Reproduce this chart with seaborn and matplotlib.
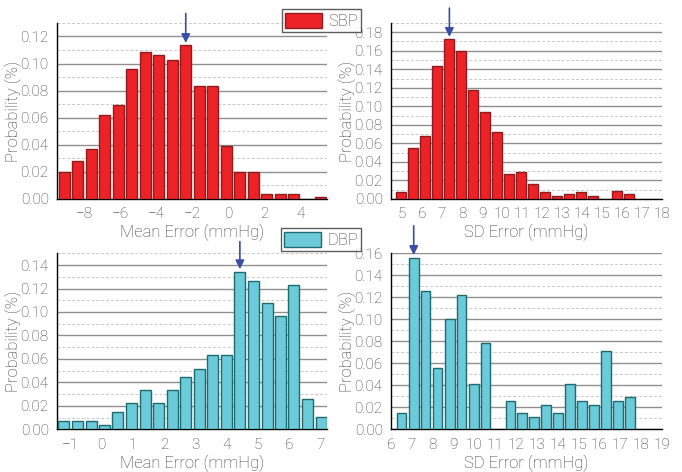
import matplotlib
matplotlib.use("Agg")
import matplotlib.pyplot as plt
from matplotlib.ticker import MultipleLocator, FormatStrFormatter
from matplotlib.patches import Patch
import seaborn as sns
import pandas as pd

sns.set_style("white")
plt.rcParams['font.family'] = ['Roboto', 'DejaVu Sans']
plt.rcParams['font.weight'] = 'light'
plt.rcParams['axes.labelweight'] = 'light'

# ---- data ----
sbp_mean_x = [-9.10, -8.35, -7.60, -6.85, -6.10, -5.35, -4.60, -3.85, -3.10, -2.35,
              -1.60, -0.85, -0.10, 0.65, 1.40, 2.15, 2.90, 3.65, 5.15]
sbp_mean_p = [0.0197, 0.0283, 0.0371, 0.0620, 0.0693, 0.0959, 0.1082, 0.1065, 0.1028, 0.1136,
              0.0834, 0.0834, 0.0393, 0.0197, 0.0197, 0.0037, 0.0037, 0.0037, 0.0015]

sbp_sd_x = [4.97, 5.57, 6.17, 6.77, 7.37, 7.97, 8.57, 9.17, 9.77, 10.37,
            10.97, 11.57, 12.17, 12.77, 13.37, 13.97, 14.57, 15.77, 16.37]
sbp_sd_p = [0.0072, 0.0554, 0.0677, 0.1440, 0.1724, 0.1598, 0.1177, 0.0940, 0.0727, 0.0270,
            0.0288, 0.0166, 0.0072, 0.0036, 0.0054, 0.0072, 0.0036, 0.0090, 0.0054]

dbp_mean_x = [-1.20, -0.77, -0.33, 0.10, 0.53, 0.96, 1.40, 1.83, 2.26, 2.70,
              3.13, 3.56, 4.00, 4.43, 4.86, 5.30, 5.73, 6.16, 6.59, 7.03]
dbp_mean_p = [0.0071, 0.0071, 0.0071, 0.0034, 0.0148, 0.0222, 0.0332, 0.0222, 0.0332, 0.0443,
              0.0517, 0.0630, 0.0630, 0.1338, 0.1264, 0.1079, 0.0968, 0.1227, 0.0258, 0.0108]

dbp_sd_x = [6.51, 7.09, 7.66, 8.24, 8.82, 9.39, 9.97, 10.54, 11.73, 12.29,
            12.86, 13.44, 14.02, 14.59, 15.17, 15.74, 16.32, 16.90, 17.47]
dbp_sd_p = [0.0145, 0.1560, 0.1261, 0.0557, 0.1004, 0.1222, 0.0408, 0.0780, 0.0260, 0.0145,
            0.0109, 0.0221, 0.0145, 0.0408, 0.0260, 0.0221, 0.0708, 0.0260, 0.0293]

series_labels = ["SBP", "DBP"]
x_labels = ["Mean Error (mmHg)", "SD Error (mmHg)"]
y_label = "Probability (%)"

RED, RED_EDGE = "#EC2227", "#8E1C1E"
CYAN, CYAN_EDGE = "#6CCBDB", "#1E6A6C"
ARROW = "#3A4DA8"
TXT = "#3c3c3c"

fig = plt.figure(figsize=(6.82, 4.72), dpi=100)

W = 0.396
H = 0.374
specs = [
    ([0.0836, 0.5784, W, 0.373], sbp_mean_x, sbp_mean_p, RED, RED_EDGE, (-9.5, 5.5), (0, 0.13), 2, x_labels[0], 9, 0.1152, 0.137),
    ([0.5733, 0.5784, 0.3974, 0.373], sbp_sd_x, sbp_sd_p, RED, RED_EDGE, (4.45, 18.0), (0, 0.19), 1, x_labels[1], 4, 0.1750, 0.206),
    ([0.0836, 0.0905, W, H], dbp_mean_x, dbp_mean_p, CYAN, CYAN_EDGE, (-1.42, 7.22), (0, 0.1505), 1, x_labels[0], 13, 0.1365, 0.160),
    ([0.5733, 0.0905, 0.3974, H], dbp_sd_x, dbp_sd_p, CYAN, CYAN_EDGE, (6.0, 19.0), (0, 0.1605), 1, x_labels[1], 1, 0.1585, 0.185),
]

for rect, xs, ps, col, edge, xlim, ylim, xmaj, xl, pk, tip, tail in specs:
    ax = fig.add_axes(rect)
    df = pd.DataFrame({"x": xs, "p": ps})
    sns.barplot(data=df, x="x", y="p", native_scale=True, color=col,
                edgecolor=edge, linewidth=1.0, width=0.82, saturation=1, ax=ax, zorder=3)
    ax.set_xlim(*xlim)
    ax.set_ylim(*ylim)
    ax.yaxis.set_major_locator(MultipleLocator(0.02))
    ax.yaxis.set_minor_locator(MultipleLocator(0.01))
    ax.yaxis.set_major_formatter(FormatStrFormatter("%.2f"))
    ax.xaxis.set_major_locator(MultipleLocator(xmaj))
    ax.xaxis.set_minor_locator(MultipleLocator(xmaj / 2))
    ax.grid(axis="y", which="major", color="#8f8f8f", linewidth=1.0, linestyle="-", zorder=0)
    ax.grid(axis="y", which="minor", color="#c8c8c8", linewidth=0.7, linestyle=(0, (3, 2)), zorder=0)
    ax.set_axisbelow(True)
    for s in ["top", "right"]:
        ax.spines[s].set_visible(False)
    for s in ["left", "bottom"]:
        ax.spines[s].set_color("black")
        ax.spines[s].set_linewidth(1.0)
    ax.tick_params(axis="both", which="major", direction="out", length=4, width=1,
                   color="black", labelsize=11, labelcolor=TXT, pad=2)
    ax.tick_params(axis="both", which="minor", direction="out", length=2, width=1, color="black")
    ax.set_xlabel(xl, fontsize=12, color=TXT, labelpad=2)
    ax.set_ylabel(y_label, fontsize=12, color=TXT, labelpad=-1)
    ax.annotate("", xy=(xs[pk], tip), xytext=(xs[pk], tail),
                arrowprops=dict(arrowstyle="-|>", color=ARROW, lw=1.2, mutation_scale=13,
                                shrinkA=0, shrinkB=0),
                annotation_clip=False)

for lab, col, edge, y in [(series_labels[0], RED, RED_EDGE, 0.980), (series_labels[1], CYAN, CYAN_EDGE, 0.516)]:
    leg = fig.legend(handles=[Patch(facecolor=col, edgecolor=edge, linewidth=1.0, label=lab)],
                     loc="upper right", bbox_to_anchor=(0.530, y), frameon=True, fancybox=False,
                     fontsize=12, handlelength=2.2, handleheight=1.0, handletextpad=0.4,
                     borderpad=0.2, borderaxespad=0.0, labelcolor=TXT)
    leg.get_frame().set_edgecolor("#333333")
    leg.get_frame().set_linewidth(1.0)

fig.savefig("out.png", dpi=100)
